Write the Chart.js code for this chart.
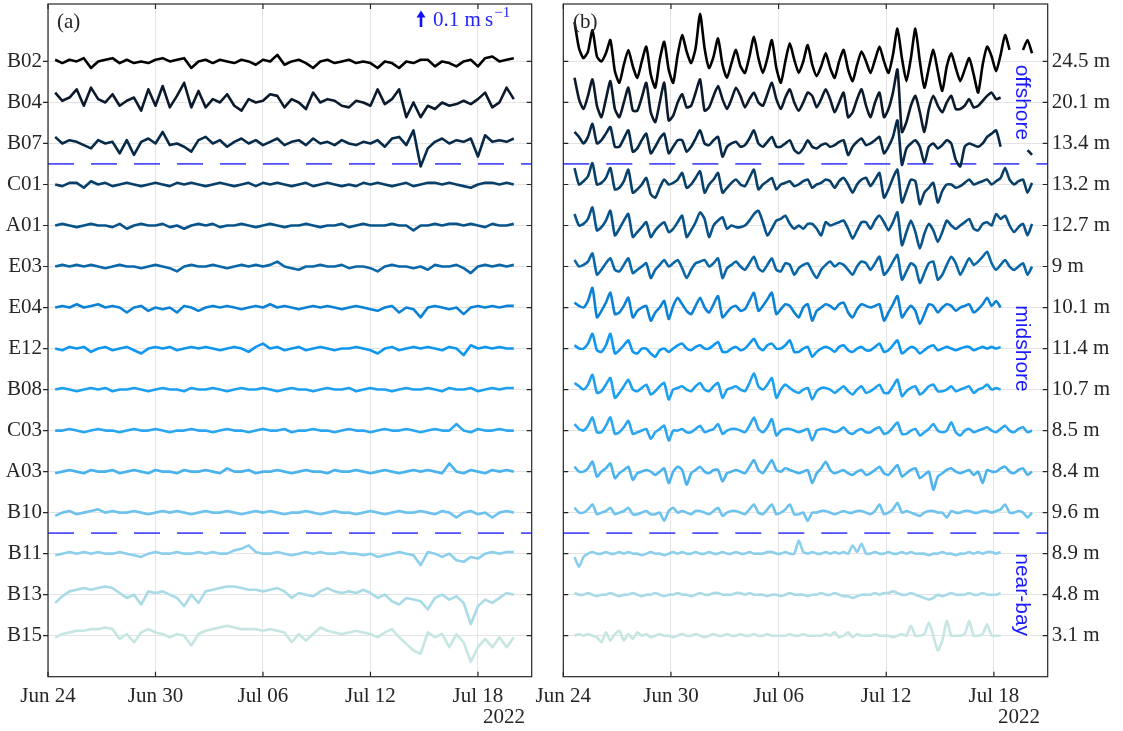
<!DOCTYPE html>
<html>
<head>
<meta charset="utf-8">
<script src="https://cdn.jsdelivr.net/npm/chart.js@4"></script>
<style>
  body { margin: 0; background: #fff; }
  canvas { position: absolute; top: 0; }
</style>
</head>
<body>
<canvas id="leftChart" width="545" height="731" style="left:0px"></canvas>
<canvas id="rightChart" width="603" height="731" style="left:520px"></canvas>
<script>
// stations, top to bottom, and their depths (right panel labels)
const stations = ['B02', 'B04', 'B07', 'C01', 'A01', 'E03', 'E04', 'E12', 'B08', 'C03', 'A03', 'B10', 'B11', 'B13', 'B15'];
const depths = ['24.5 m', '20.1 m', '13.4 m', '13.2 m', '12.7 m', '9 m', '10.1 m', '11.4 m', '10.7 m', '8.5 m', '8.4 m', '9.6 m', '8.9 m', '4.8 m', '3.1 m'];
const colors = ['#000000', '#0b1a2c', '#062a48', '#08406a', '#08548a', '#0a67a8', '#0b82d6', '#0f97f0',
                '#1da0f0', '#2ca6f0', '#4ab3ee', '#6ec2ee', '#8ccfec', '#a9dbe7', '#c6e6e3'];
const groupBreaks = [12.5, 3.5];   // dashed separators between offshore / midshore / near-bay
const groups = [['offshore', 14], ['midshore', 8], ['near-bay', 2]];

// x axis: days since Jun 24 2022
const dateTicks = [0, 6, 12, 18, 24];
const dateLabels = ['Jun 24', 'Jun 30', 'Jul 06', 'Jul 12', 'Jul 18'];
const scaleArrow = 10; // cm/s (0.1 m/s)

// (a) velocities, cm/s, sampled every 0.4 day from day 0.4
const leftStart = 0.4, leftStep = 0.4;
const b02Left = [1,-1,1,0,2,-4,0,1,2,-1, 1,-1,0,-1,1,2,0,1,2,-4, 0,1,-1,1,0,-1,1,0,-2,1, 0,4,-2,0,1,-1,-4,0,1,-1, 0,1,-1,0,-1,-4,0,-1,-4,0, -1,1,1,-3,0,-1,-3,0,1,-3, 2,3,0,1,2];
const b04Left = [6,1,3,8,-2,9,2,0,5,-2, 1,3,-5,8,-2,10,-3,4,12,-3, 7,-3,2,0,5,-2,-5,2,0,1, 5,4,-3,2,0,-4,6,0,2,1, -2,-3,1,0,-2,8,-1,2,8,-9, 0,-9,-2,-4,0,-2,-1,1,-1,2, 6,-3,0,9,2];
const b07Left = [4,0,2,1,-1,-3,2,0,1,-6, 2,-7,1,3,0,7,-1,0,-2,-5, 2,4,0,2,-2,1,3,0,2,-1, 1,3,-1,1,2,-1,3,0,1,-1, 2,0,-1,1,0,2,-2,3,4,-1, 8,-14,-3,1,3,0,2,1,3,-8, 5,1,2,1,3];
const c01Left = [0,-1,1,1,-2,2,0,1,-1,0, 1,0,-1,0,1,0,-1,1,0,1, 0,-1,0,1,0,-1,0,1,-1,1, 0,1,0,-1,0,1,-1,0,1,0, -1,0,-1,1,0,1,0,-1,0,1, -1,0,1,1,0,1,0,-1,-2,0, 1,1,0,1,0];
const a01Left = [0,1,0,-1,0,1,0,0,-1,1, -2,0,1,0,0,1,-1,0,-2,0, 1,0,1,-1,0,0,1,0,-1,0, 1,0,-1,0,0,1,0,-1,0,0, 1,-1,0,1,0,0,0,1,0,0, -3,0,0,1,0,1,1,0,1,0, -1,1,0,0,1];
const e03Left = [0,1,0,1,0,1,0,-1,0,1, 0,0,-1,0,1,0,-1,-3,0,1, 0,0,1,0,-1,0,1,0,1,0, 1,3,0,-1,-2,0,0,1,0,0, 1,-1,0,0,-1,-3,0,1,0,0, -1,0,-2,1,0,0,1,-1,-4,0, 1,0,1,0,1];
const e04Left = [0,1,0,2,0,1,2,0,1,0, -3,0,1,-2,0,-1,0,-3,1,0, -2,0,1,0,1,0,-1,0,1,0, 2,0,1,0,-1,0,1,0,1,0, -1,0,1,0,-1,-2,0,1,-3,0, -1,-6,0,1,0,-1,0,-4,0,1, 0,1,0,1,1];
const e12Left = [0,-1,1,0,1,-2,0,1,-1,0, 1,-1,-3,0,1,0,1,-1,0,1, 0,1,0,-1,0,1,0,-2,1,3, 0,1,-1,0,1,-1,0,1,0,-1, 0,0,1,0,-1,-3,0,1,-1,0, 1,0,1,0,-1,1,0,-4,2,0, 1,0,1,0,0];
const b08Left = [0,1,0,-1,0,1,0,1,-1,0, 0,1,0,-1,0,1,0,0,-1,1, 0,0,1,0,-1,0,1,0,0,1, 0,-1,0,1,0,0,-1,0,1,0, 0,1,-1,0,1,0,0,-1,0,1, 0,0,1,0,-1,1,0,0,1,-1, 0,1,0,1,1];
const c03Left = [0,0,1,0,-1,0,1,0,0,-1, 0,1,0,0,1,0,-1,0,0,1, 0,0,-1,0,1,0,0,-1,0,1, 0,0,1,-1,0,0,1,0,0,-1, 0,1,0,0,-1,0,1,0,0,1, 0,-1,0,1,0,0,4,0,-1,1, 0,0,1,0,0];
const a03Left = [-1,0,1,0,-1,1,0,0,1,-1, 0,1,0,-1,1,0,0,-1,1,0, 0,1,0,-1,2,0,0,1,-1,0, 0,1,0,-1,0,1,0,0,-1,1, 0,0,1,0,-1,0,1,0,-1,0, 1,0,1,0,-1,5,0,-1,1,0, -1,1,0,1,0];
const b10Left = [-2,0,1,-1,0,1,2,0,1,0, 0,1,0,-1,0,1,0,1,0,-1, 0,1,0,0,1,0,-1,0,1,0, 1,0,-1,0,0,1,0,-1,0,1, 0,0,-1,0,1,0,-1,0,1,0, 0,1,0,-1,1,0,-3,0,1,-1, 0,-3,0,1,0];
const b11Left = [-1,0,1,0,1,0,1,0,0,1, 0,-1,-2,0,1,0,0,1,0,0, 1,0,1,0,0,2,3,5,1,0, 0,1,0,-1,0,1,0,1,0,0, 1,0,0,-1,0,-2,-1,0,1,0, -1,-7,1,0,-2,0,-4,-5,-2,-3, 0,1,0,1,1];
const b13Left = [-5,-1,2,3,4,3,4,5,4,1, -2,0,-6,2,1,2,0,-2,-7,0, -5,2,3,4,5,5,4,3,3,2, 3,4,2,-2,1,0,-1,2,4,2, 1,2,1,3,1,-2,0,-4,-6,-2, -3,-4,-9,-2,0,-3,-1,-5,-18,-7, -3,-5,-2,1,0];
const b15Left = [-1,1,2,3,3,4,4,5,4,-2, 1,-4,2,4,2,1,-1,1,0,-6, 1,3,4,5,6,5,4,4,4,3, 4,3,2,-4,1,-3,1,5,3,2, 1,2,3,2,1,-1,2,4,-1,-5, -9,-11,2,-1,1,-7,1,-4,-16,-7, -2,-7,-1,-7,-1];

// (b) velocities, cm/s, sampled every 0.25 day from day 0.625
const rightStart = 0.625, rightStep = 0.25;
const b02Right = [24,8,
  2,6,19,3, 0,5,13,-6, -13,-2,7,-3, -10,0,9,-8, -16,1,12,-5, -13,4,16,6, -1,8,29,8, -4,3,14,-2,
  -10,-1,7,-3, -7,3,15,2, -7,2,13,-4, -13,0,11,1, -7,0,10,-2, -9,-3,5,-4, -10,0,7,-5, -12,-2,6,0,
  -7,1,9,0, -7,4,20,2, -12,2,20,0, -16,-4,7,-6, -18,-3,5,-4, -12,-5,2,-8, -19,-2,9,3, -6,4,16,7,
  null,null,7,13, 5];
const b04Right = [15,2,
  -4,4,14,-2, -9,2,13,-4, -9,0,9,-5, -5,3,12,-6, -12,0,12,-11, -8,0,5,-3, -2,6,14,-5, -3,4,10,2,
  -4,2,9,4, -3,2,6,0, -2,5,12,2, -4,3,8,0, -5,0,6,4, -3,2,8,2, -6,0,6,-9, -6,2,8,-2,
  -9,0,6,-9, -4,6,20,-18, -12,-2,4,-6, -18,-4,4,-2, -6,0,4,-4, -4,-2,2,-3, -2,1,4,6,
  2,3];
const b07Right = [7,4,
  0,4,12,0, 2,6,10,-2, -2,3,8,-5, -3,2,6,-6, -2,3,6,-6, -2,2,2,-5, -2,3,8,0, -1,2,4,-8,
  -2,0,1,-2, -1,3,8,0, -2,1,4,-2, -2,0,2,-4, -6,-3,2,-2, -3,-1,0,-2, -1,1,2,-7, -2,1,3,-1,
  0,2,4,-6, -2,4,14,-13, -3,0,2,-2, -12,-2,0,-3, -1,2,0,-10, -14,-2,0,-1, -2,0,4,6,
  8,-2,null,null, null,null,null,-4, -7];
const c01Right = [10,0,
  2,5,13,0, 1,4,10,-3, -2,2,9,-5, -3,0,4,-6, -8,-2,3,0, 1,3,7,-2, 0,4,8,-5, 0,3,7,-5,
  -2,1,3,0, -1,4,9,-3, 0,2,4,-3, 0,1,2,-1, 0,2,3,-2, 0,1,3,2, -2,2,4,0, -5,0,3,4,
  -1,3,7,-8, -3,4,9,-11, -4,3,2,-12, -5,-2,1,-11, -4,0,0,-2, -1,1,3,0, 1,2,3,0, 2,4,10,3,
  0,2,3,-5, 1];
const a01Right = [7,0,
  1,4,11,-3, -1,3,9,-6, -2,3,7,-7, -4,-1,2,-7, -3,0,2,-4, -2,2,6,-7, -3,2,8,4, -7,0,3,5,
  -2,0,-1,-1, 0,3,7,9, 2,-6,-2,3, 4,6,1,-2, 0,-2,1,1, -2,-6,2,0, 1,2,3,-2, -8,-3,2,2,
  -2,3,6,2, -3,2,8,-12, -4,3,-4,-14, -5,1,-3,-10, -4,3,0,-2, 0,2,4,-2, -3,1,2,0, 7,4,6,0,
  -4,-1,1,-6, 1];
const e03Right = [4,0,
  1,3,8,-5, -2,2,5,-2, -3,1,5,-4, -2,0,2,-7, -2,1,4,0, 2,4,-1,-7, -2,2,3,4, 0,2,5,-7,
  -1,1,3,0, -2,2,6,-1, -3,1,5,-2, -3,2,1,-5, -1,1,2,-3, -7,-2,1,3, 0,2,1,-2, -5,0,3,2,
  -2,2,6,-5, -2,3,7,-8, -3,2,0,-10, -4,2,3,-8, -5,1,6,2, -5,0,5,1, 3,6,9,2, -2,1,4,0,
  -2,0,2,-5, 0];
const e04Right = [3,1,
  0,4,12,-6, -2,3,9,-4, -3,1,6,-6, -2,0,1,-8, -3,0,4,-7, 1,6,2,-2, -4,1,6,0, -3,2,7,-6,
  -3,0,1,-2, -1,4,9,-2, 1,5,9,-4, -1,2,1,-3, -6,0,2,-8, -2,0,2,1, -1,2,3,-3, -6,-1,2,1,
  0,1,2,-8, -3,2,7,-6, -2,1,-2,-10, -4,2,1,-3, 0,2,1,-2, 0,1,2,-3, -1,2,6,1,
  4,0];
const e12Right = [2,0,
  0,3,9,-1, -2,2,9,-3, -1,2,5,-2, -3,0,0,-3, -5,-1,0,-2, 0,2,3,0, -1,1,2,0, 0,2,4,-2,
  -2,0,1,-1, 0,3,6,1, -1,2,3,0, 0,2,5,-2, -2,0,1,-5, -2,0,1,0, -2,1,2,-1, -2,0,1,-1,
  -1,1,3,-2, -1,2,5,-3, -1,1,0,-3, -1,1,2,-1, 0,1,0,-1, 0,1,1,-1, 0,1,0,1,
  0,1];
const b08Right = [4,2,
  0,3,9,-2, -1,3,7,-5, -2,2,6,0, -1,1,3,-3, -1,2,4,-6, 0,1,2,0, -1,2,4,0, -1,2,4,-5,
  0,1,2,0, -1,4,10,2, 0,3,7,-5, 0,3,1,-1, -2,0,1,-6, -1,1,1,0, -2,0,2,-1, -3,0,2,-2,
  -1,1,3,-2, -2,2,6,-4, -1,1,2,-3, -1,2,3,-1, -1,0,2,-1, 0,1,2,-2, 0,1,3,0,
  1,0];
const c03Right = [4,1,
  0,3,8,-1, -1,3,8,-2, -1,2,6,-2, -1,0,1,-5, -1,1,3,-6, 0,0,1,-1, -1,1,3,-1, 0,1,4,-2,
  0,1,1,0, -1,3,8,1, -1,2,7,-3, 0,1,1,0, -1,0,1,-6, 0,1,1,0, -1,0,2,-1, -2,0,1,-1,
  -1,1,2,-2, -1,2,5,-2, -2,0,1,-3, -1,1,4,0, -1,0,5,-1, -3,0,1,-1, 0,1,2,0, -1,1,3,0,
  -1,1,2,-1, 0];
const a03Right = [3,0,
  0,2,6,-3, 0,2,5,-4, -1,1,3,-5, -1,0,1,0, -2,0,2,-7, 0,3,1,-8, -1,1,3,0, -1,1,1,-6,
  -1,0,1,0, -1,3,7,1, -1,3,7,1, 0,2,1,0, -1,0,1,-7, -1,2,6,1, -1,0,1,-1, -2,0,1,-2,
  -1,1,3,-1, -2,1,4,-3, -1,1,2,-4, -2,0,-11,-3, -1,1,2,0, -1,0,1,-2, 0,-7,1,0, 0,2,3,0,
  -1,1,2,-2, 0];
const b10Right = [3,0,
  0,2,5,-1, 0,1,3,-1, 0,1,3,-1, -1,0,1,-1, -1,0,-5,1, 3,0,1,0, -1,1,1,0, -1,1,3,-2,
  0,1,1,0, -1,2,5,0, -1,2,5,-1, 0,2,5,-1, -1,0,-5,0, 0,1,1,0, -1,0,1,0, 0,1,1,0,
  -1,1,5,-1, 0,2,6,0, 1,0,-1,-2, 0,1,1,0, 0,-3,1,0, 0,1,1,0, 0,1,1,0, 1,2,5,0,
  0,1,0,-3, 0];
const b11Right = [-2,-8,
  -2,0,1,0, 0,1,0,0, 1,0,1,0, 0,-1,0,1, 0,0,-1,0, 1,0,1,0, 0,1,0,0, 1,0,0,1,
  0,0,1,0, 0,1,0,0, 0,1,1,0, 0,1,0,0, 8,1,0,1, 0,0,1,0, 1,0,1,0, 5,1,6,0,
  0,1,0,0, 1,0,0,1, 0,1,0,0, 0,-1,0,0, 1,0,0,-1, 0,0,1,0, 1,0,1,1,
  0,1];
const b13Right = [1,0,
  0,1,0,-1, 0,0,1,0, -1,0,0,1, 0,-1,0,0, 1,0,-1,0, 0,1,0,0, -1,0,1,0, 0,1,1,0,
  0,0,1,1, 0,1,0,0, 0,-1,0,0, -1,0,1,0, 0,0,-1,0, 0,1,0,0, 1,0,-1,-1, -2,-1,0,0,
  0,1,0,1, 1,2,1,0, 0,1,0,-1, -2,-3,-2,0, -1,0,1,0, 0,0,1,0, 0,1,0,0,
  0,1];
const b15Right = [0,1,
  0,1,0,-1, -4,2,-3,1, 3,-3,1,-2, 2,0,1,-1, 0,1,0,0, -1,0,1,0, 0,1,0,-1, 0,1,0,0,
  1,0,0,1, 0,0,1,0, 0,1,0,0, 0,0,1,0, 0,1,0,0, 0,0,1,0, 2,-1,0,2, -1,1,0,0,
  0,1,0,0, 0,-1,0,1, 0,6,0,0, 1,8,0,-9, -3,9,0,0, 0,1,9,0, 0,1,7,0,
  0,0];

const leftSeries = [b02Left, b04Left, b07Left, c01Left, a01Left, e03Left, e04Left, e12Left, b08Left, c03Left, a03Left, b10Left, b11Left, b13Left, b15Left];
const rightSeries = [b02Right, b04Right, b07Right, c01Right, a01Right, e03Right, e04Right, e12Right, b08Right, c03Right, a03Right, b10Right, b11Right, b13Right, b15Right];

// one slot per station; 1 cm/s -> 0.04 slot
const SCALE = 0.04;
const slots = stations.map((s, k) => stations.length - k);
const X_MAX = 27, Y_MIN = 0, Y_MAX = 16.4;

const serif = "'Liberation Serif', 'Times New Roman', serif";
const sans = "'Liberation Sans', Arial, sans-serif";
const ink = '#262626';
const blue = '#2424ff';

Chart.defaults.font.family = serif;
Chart.defaults.color = ink;

function makeDatasets(series, start, step, tension) {
  const sets = series.map((vals, k) => ({
    data: vals.map((v, i) => ({ x: start + step * i, y: v === null ? null : slots[k] + v * SCALE })),
    borderColor: colors[k],
    borderWidth: 2.6,
    pointRadius: 0,
    tension: tension,
    borderJoinStyle: 'round',
    spanGaps: false,
    order: 0
  }));
  groupBreaks.forEach(b => sets.push({
    data: [{ x: 0, y: b }, { x: X_MAX, y: b }],
    borderColor: '#4f4fff',
    borderWidth: 1.8,
    borderDash: [26, 17],
    pointRadius: 0,
    order: 1
  }));
  return sets;
}

// box with ticks, drawn on top
function framePlugin(leftOut) {
  return {
    id: 'frame',
    afterDraw(chart) {
      const { ctx, chartArea: a, scales } = chart;
      const x = scales.x, y = scales.y;
      ctx.save();
      ctx.strokeStyle = ink;
      ctx.lineWidth = 1.2;
      ctx.strokeRect(a.left, a.top, a.right - a.left, a.bottom - a.top);
      ctx.beginPath();
      dateTicks.forEach(t => {
        const px = x.getPixelForValue(t);
        ctx.moveTo(px, a.bottom); ctx.lineTo(px, a.bottom - 5);
        ctx.moveTo(px, a.top); ctx.lineTo(px, a.top + 5);
      });
      slots.forEach(s => {
        const py = y.getPixelForValue(s);
        if (leftOut) { ctx.moveTo(a.left - 5, py); ctx.lineTo(a.left, py); }
        else { ctx.moveTo(a.left, py); ctx.lineTo(a.left + 5, py); }
        ctx.moveTo(a.right, py); ctx.lineTo(a.right - 5, py);
      });
      ctx.stroke();
      ctx.restore();
    }
  };
}

function makeOptions(pad, yPos, yWidth, yLabels) {
  return {
    responsive: false,
    animation: false,
    devicePixelRatio: 1,
    layout: { padding: pad },
    plugins: { legend: { display: false }, tooltip: { enabled: false } },
    scales: {
      x: {
        type: 'linear', min: 0, max: X_MAX,
        afterBuildTicks: s => { s.ticks = dateTicks.map(v => ({ value: v })); },
        afterFit: s => { s.height = 54.3; s.paddingLeft = 0; s.paddingRight = 0; },
        ticks: {
          autoSkip: false, maxRotation: 0, padding: 7,
          font: { size: 21, family: serif }, color: ink,
          callback: v => dateLabels[dateTicks.indexOf(v)]
        },
        grid: { color: '#e4e4e4', lineWidth: 1, drawTicks: false },
        border: { display: false }
      },
      y: {
        type: 'linear', position: yPos, min: Y_MIN, max: Y_MAX,
        afterBuildTicks: s => { s.ticks = slots.map(v => ({ value: v })); },
        afterFit: s => { s.width = yWidth; s.paddingTop = 0; s.paddingBottom = 0; },
        ticks: {
          autoSkip: false, padding: yPos === 'left' ? 6 : 4,
          font: { size: 21, family: serif }, color: ink,
          callback: v => yLabels[slots.indexOf(v)]
        },
        grid: { color: '#e4e4e4', lineWidth: 1, drawTicks: false },
        border: { display: false }
      }
    }
  };
}

// panel (a)
new Chart(document.getElementById('leftChart'), {
  type: 'line',
  data: { datasets: makeDatasets(leftSeries, leftStart, leftStep, 0) },
  options: makeOptions({ top: 4, right: 13.3, left: 0, bottom: 0 }, 'left', 48, stations),
  plugins: [framePlugin(true), {
    id: 'notesA',
    afterDraw(chart) {
      const { ctx, scales: { y } } = chart;
      ctx.save();
      ctx.fillStyle = ink;
      ctx.font = '21px ' + serif;
      ctx.textBaseline = 'middle';
      ctx.fillText('(a)', 57, 22);
      ctx.textAlign = 'right';
      ctx.fillText('2022', 525, 717);
      // 0.1 m/s scale arrow
      const len = y.getPixelForValue(0) - y.getPixelForValue(scaleArrow * SCALE);
      const ax = 421, yb = 27, yt = yb - len;
      ctx.strokeStyle = '#1010ff';
      ctx.fillStyle = '#1010ff';
      ctx.lineWidth = 2.6;
      ctx.beginPath(); ctx.moveTo(ax, yb); ctx.lineTo(ax, yt + 5); ctx.stroke();
      ctx.beginPath(); ctx.moveTo(ax, yt); ctx.lineTo(ax - 4.5, yt + 7); ctx.lineTo(ax + 4.5, yt + 7); ctx.closePath(); ctx.fill();
      ctx.fillStyle = blue;
      ctx.textAlign = 'left';
      ctx.textBaseline = 'alphabetic';
      ctx.font = '21px ' + serif;
      const main = '0.1 m\u2009s';
      ctx.fillText(main, 433, 26);
      const w = ctx.measureText(main).width;
      ctx.font = '15px ' + serif;
      ctx.fillText('\u22121', 433 + w + 1, 17);
      ctx.restore();
    }
  }]
});

// panel (b)
new Chart(document.getElementById('rightChart'), {
  type: 'line',
  data: { datasets: makeDatasets(rightSeries, rightStart, rightStep, 0.2) },
  options: makeOptions({ top: 4, right: 0, left: 43.3, bottom: 0 }, 'right', 75.3, depths),
  plugins: [framePlugin(false), {
    id: 'notesB',
    afterDraw(chart) {
      const { ctx, scales: { x, y } } = chart;
      ctx.save();
      ctx.fillStyle = ink;
      ctx.font = '21px ' + serif;
      ctx.textBaseline = 'middle';
      ctx.fillText('(b)', 53, 22);
      ctx.textAlign = 'right';
      ctx.fillText('2022', 520, 717);
      ctx.fillStyle = '#1a1aff';
      ctx.font = '21px ' + sans;
      ctx.textAlign = 'center';
      groups.forEach(([name, mid]) => {
        ctx.save();
        ctx.translate(x.getPixelForValue(25.55), y.getPixelForValue(mid));
        ctx.rotate(Math.PI / 2);
        ctx.fillText(name, 0, 0);
        ctx.restore();
      });
      ctx.restore();
    }
  }]
});
</script>
</body>
</html>
